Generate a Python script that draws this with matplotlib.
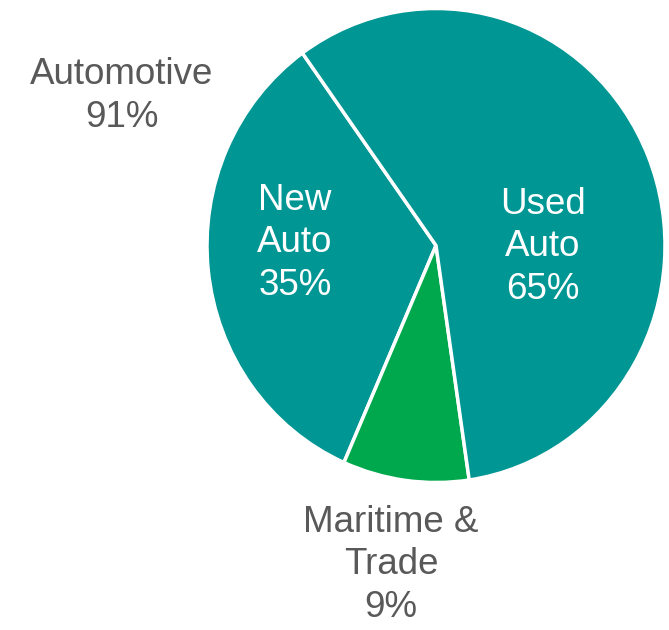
import matplotlib.pyplot as plt

plt.rcParams['font.family'] = ['Liberation Sans', 'DejaVu Sans']

# slices, counter-clockwise from the top-left boundary
slice_names = ['New Auto', 'Maritime & Trade', 'Used Auto']
slice_values = [33.5, 8.9, 57.6]
slice_colors = ['#009694', '#00A84D', '#009694']

outer_label = 'Automotive\n91%'
inner_labels = ['New\nAuto\n35%', 'Used\nAuto\n65%']
bottom_label = 'Maritime &\nTrade\n9%'

W, H = 669, 630
cx, cy = 436, 245.5     # pie centre in pixels
rx, ry = 229, 237       # radii in pixels (source is slightly stretched)

fig = plt.figure(figsize=(W / 100, H / 100), dpi=100)
ax = fig.add_axes([0, 0, 1, 1])

ax.pie(slice_values, colors=slice_colors, startangle=125.7, counterclock=True,
       radius=1, wedgeprops=dict(edgecolor='white', linewidth=2.5))
ax.set_aspect('auto')
ax.set_xlim(-cx / rx, (W - cx) / rx)
ax.set_ylim(-(H - cy) / ry, cy / ry)
ax.axis('off')


def px(x, y):
    return x / W, 1 - y / H


fs = 26.5
ls = 1.26
fig.text(*px(122, 96), outer_label, ha='center', va='center', fontsize=fs,
         color='#595959', linespacing=ls)
fig.text(*px(295, 243), inner_labels[0], ha='center', va='center', fontsize=fs,
         color='white', linespacing=ls)
fig.text(*px(543, 247), inner_labels[1], ha='center', va='center', fontsize=fs,
         color='white', linespacing=ls)
fig.text(*px(391, 565), bottom_label, ha='center', va='center', fontsize=fs,
         color='#595959', linespacing=ls)

fig.savefig('out.png', dpi=100)
